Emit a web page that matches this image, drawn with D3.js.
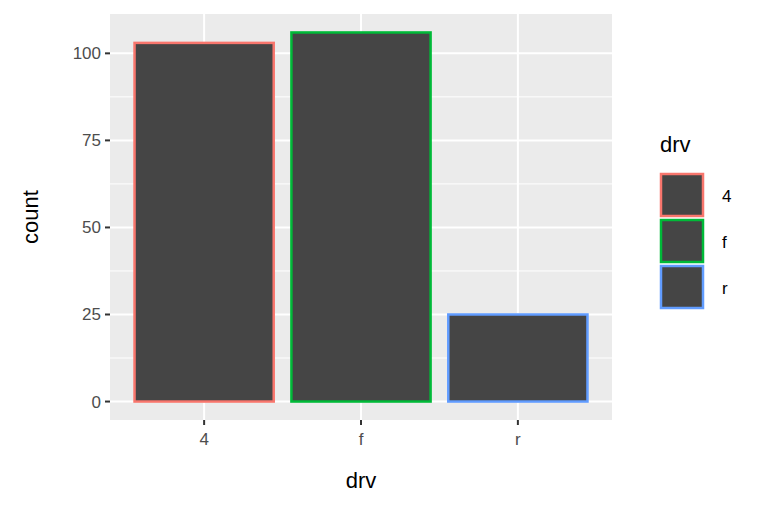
<!DOCTYPE html>
<html><head><meta charset="utf-8">
<script src="https://cdn.jsdelivr.net/npm/d3@7"></script>
<style>body{margin:0;background:#fff}text{font-family:Helvetica,Arial,"Liberation Sans",sans-serif}</style>
</head><body>
<svg id="chart" width="768" height="512"></svg>
<script>
// data
const categories = ['4', 'f', 'r'];
const counts = [103, 106, 25];
const colours = ['#F8766D', '#00BA38', '#619CFF'];
const yTicks = [0, 25, 50, 75, 100];

const svg = d3.select('#chart');
const pLeft = 110, pRight = 612, pTop = 14, pBottom = 420;

let xScale = d3.scaleLinear().domain([0.4, 3.6]).range([pLeft, pRight]);
let yScale = d3.scaleLinear().domain([-5.3, 111.3]).range([pBottom, pTop]);

// panel background
svg.append('rect').attr('x', pLeft).attr('y', pTop)
    .attr('width', pRight - pLeft).attr('height', pBottom - pTop).attr('fill', '#ebebeb');

// minor grid
let minor = [12.5, 37.5, 62.5, 87.5];
svg.selectAll('.minor').data(minor).enter().append('line')
    .attr('x1', pLeft).attr('x2', pRight)
    .attr('y1', d => yScale(d)).attr('y2', d => yScale(d))
    .attr('stroke', '#fff').attr('stroke-width', 1);
// major grid
svg.selectAll('.majory').data(yTicks).enter().append('line')
    .attr('x1', pLeft).attr('x2', pRight)
    .attr('y1', d => yScale(d)).attr('y2', d => yScale(d))
    .attr('stroke', '#fff').attr('stroke-width', 2);
svg.selectAll('.majorx').data(categories).enter().append('line')
    .attr('x1', (d, i) => xScale(i + 1)).attr('x2', (d, i) => xScale(i + 1))
    .attr('y1', pTop).attr('y2', pBottom)
    .attr('stroke', '#fff').attr('stroke-width', 2);

// bars
let bw = (xScale(1.45) - xScale(0.55));
svg.selectAll('.bars').data(counts).enter().append('rect')
    .attr('x', (d, i) => xScale(i + 0.55) + 1)
    .attr('y', d => yScale(d))
    .attr('width', bw - 2)
    .attr('height', d => yScale(0) - yScale(d))
    .attr('fill', '#454545')
    .attr('stroke', (d, i) => colours[i]).attr('stroke-width', 2.5);

// axes
svg.selectAll('.yt').data(yTicks).enter().append('line')
    .attr('x1', pLeft - 5).attr('x2', pLeft)
    .attr('y1', d => yScale(d)).attr('y2', d => yScale(d))
    .attr('stroke', '#333').attr('stroke-width', 2);
svg.selectAll('.yl').data(yTicks).enter().append('text')
    .attr('x', pLeft - 9).attr('y', d => yScale(d) + 6)
    .attr('text-anchor', 'end').attr('font-size', '17px').attr('fill', '#4d4d4d')
    .text(d => d);
svg.selectAll('.xt').data(categories).enter().append('line')
    .attr('x1', (d, i) => xScale(i + 1)).attr('x2', (d, i) => xScale(i + 1))
    .attr('y1', pBottom).attr('y2', pBottom + 5)
    .attr('stroke', '#333').attr('stroke-width', 2);
svg.selectAll('.xl').data(categories).enter().append('text')
    .attr('x', (d, i) => xScale(i + 1)).attr('y', pBottom + 25)
    .attr('text-anchor', 'middle').attr('font-size', '17px').attr('fill', '#4d4d4d')
    .text(d => d);

svg.append('text').attr('x', (pLeft + pRight) / 2).attr('y', 488)
    .attr('text-anchor', 'middle').attr('font-size', '22px').text('drv');
svg.append('text').attr('transform', 'translate(38,' + ((pTop + pBottom) / 2) + ') rotate(-90)')
    .attr('text-anchor', 'middle').attr('font-size', '22px').text('count');

// legend
svg.append('text').attr('x', 660).attr('y', 152).attr('font-size', '22px').text('drv');
let lg = svg.selectAll('.lg').data(categories).enter().append('g')
    .attr('transform', (d, i) => 'translate(661,' + (174 + i * 46) + ')');
lg.append('rect').attr('width', 42).attr('height', 42)
    .attr('fill', '#454545').attr('stroke', (d, i) => colours[i]).attr('stroke-width', 2.5);
lg.append('text').attr('x', 61).attr('y', 28).attr('font-size', '17px').text(d => d);
</script>
</body></html>
